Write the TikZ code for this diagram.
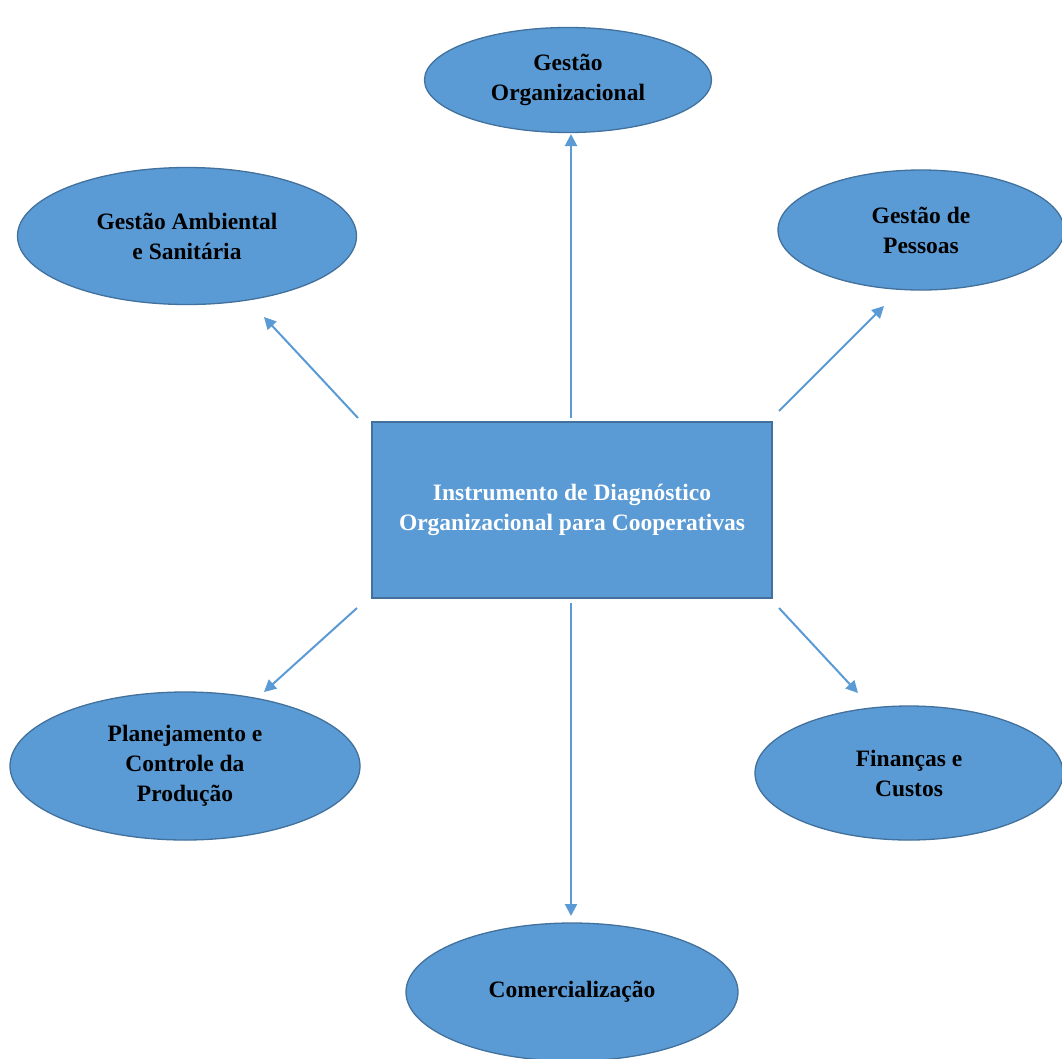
\documentclass[tikz,border=0pt]{standalone}
\usepackage{fontspec}
\setmainfont{Liberation Serif}
\usetikzlibrary{shapes.geometric,arrows.meta}
\definecolor{fillblue}{HTML}{5B9BD5}
\definecolor{edgeblue}{HTML}{41719C}
\begin{document}
\begin{tikzpicture}[x=1pt,y=-1pt,
  topic/.style={ellipse,draw=edgeblue,line width=1.3pt,fill=fillblue,inner sep=0pt,
    align=center,font=\bfseries\fontsize{23.5}{30}\selectfont,text=black},
  hub/.style={rectangle,draw=edgeblue,line width=1.3pt,fill=fillblue,inner sep=0pt,
    align=center,font=\bfseries\fontsize{23.5}{30}\selectfont,text=white},
  link/.style={draw=fillblue,line width=2pt,-{Triangle[length=12pt,width=12pt]}}]
\useasboundingbox (0,0) rectangle (1062,1058);
\fill[white] (0,0) rectangle (1062,1058);
\node[hub,minimum width=400pt,minimum height=176pt] (hub) at (572,510)
  {Instrumento de Diagnóstico\\Organizacional para Cooperativas};
\node[topic,minimum width=287pt,minimum height=105pt] (org) at (568,80) {Gestão\\Organizacional};
\node[topic,minimum width=339pt,minimum height=137pt] (amb) at (187,236) {Gestão Ambiental\\e Sanitária};
\node[topic,minimum width=286pt,minimum height=120pt] (pes) at (921,230) {Gestão de\\Pessoas};
\node[topic,minimum width=350pt,minimum height=148pt] (pla) at (185,766) {Planejamento e\\Controle da\\Produção};
\node[topic,minimum width=308pt,minimum height=134pt] (fin) at (909,773) {Finanças e\\Custos};
\node[topic,minimum width=332pt,minimum height=138pt] (com) at (572,992) {Comercialização};
% connector end points
\coordinate (s1) at (571,418); \coordinate (e1) at (571,134);
\coordinate (s2) at (358,418); \coordinate (e2) at (264,317);
\coordinate (s3) at (779,411); \coordinate (e3) at (884,306);
\coordinate (s4) at (357,608); \coordinate (e4) at (264,692);
\coordinate (s5) at (779,608); \coordinate (e5) at (858,693);
\coordinate (s6) at (571,603); \coordinate (e6) at (571,916);
\draw[link] (s1) -- (e1);
\draw[link] (s2) -- (e2);
\draw[link] (s3) -- (e3);
\draw[link] (s4) -- (e4);
\draw[link] (s5) -- (e5);
\draw[link] (s6) -- (e6);
\end{tikzpicture}
\end{document}
